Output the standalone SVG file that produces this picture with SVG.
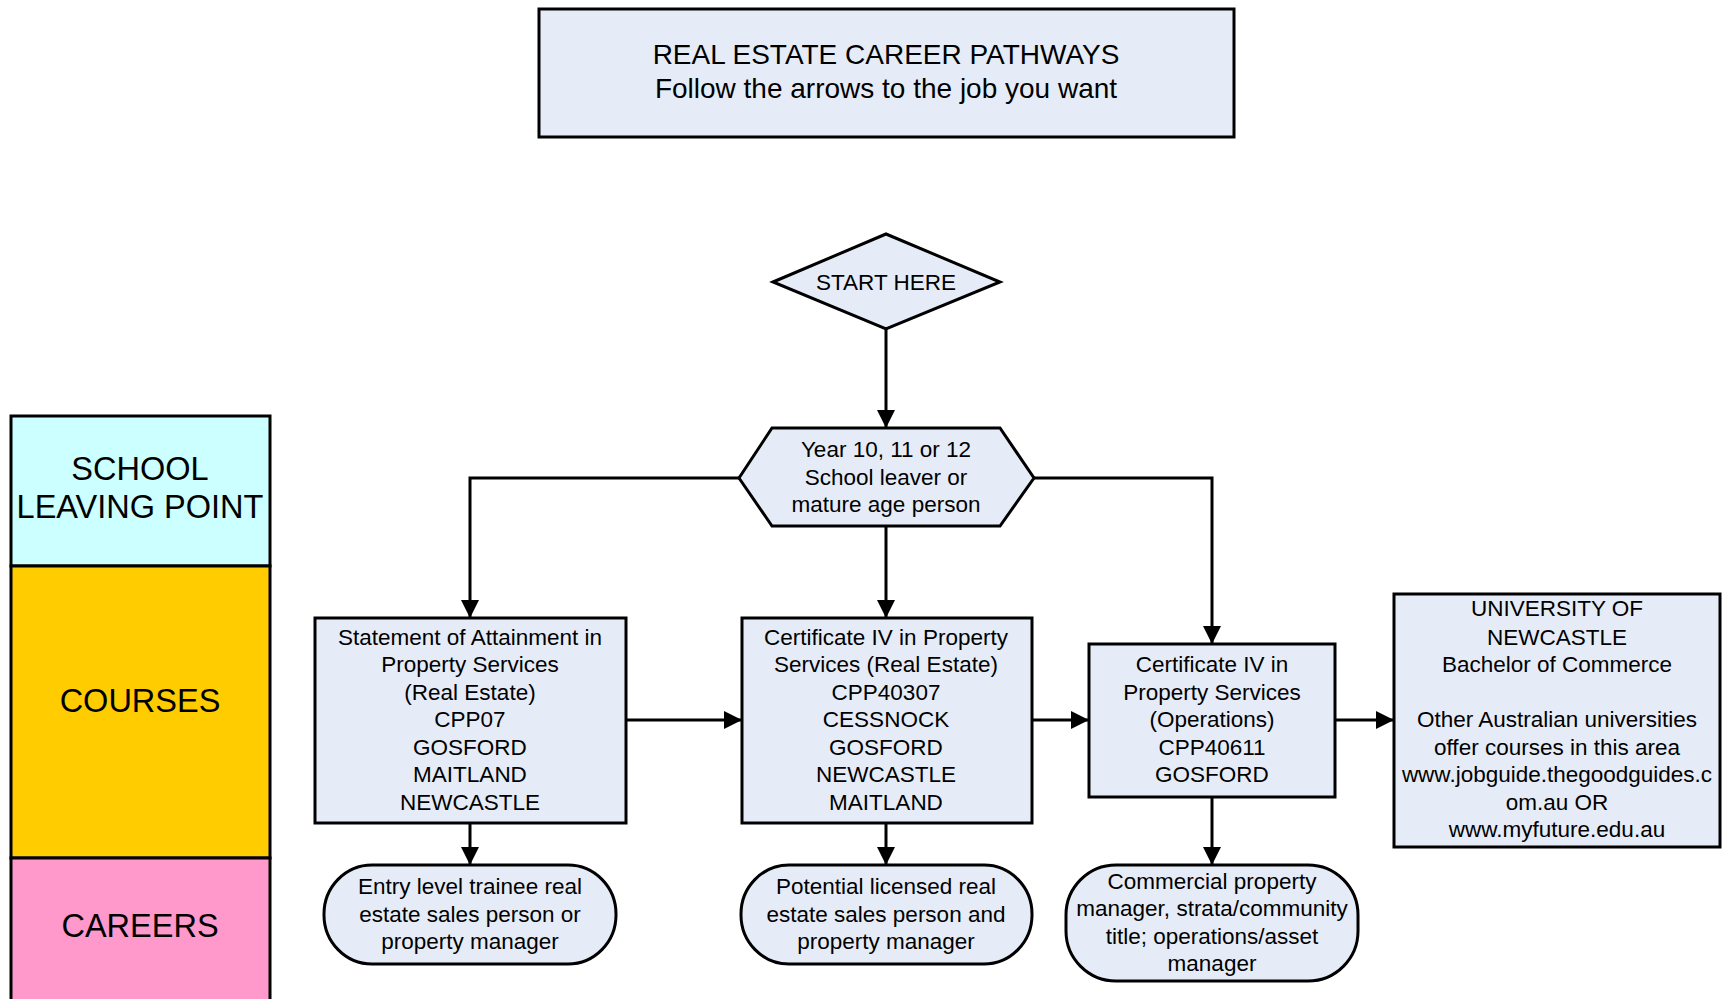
<svg xmlns="http://www.w3.org/2000/svg" width="1722" height="999" viewBox="0 0 1722 999">
<style>
.n{fill:#E6ECF7;stroke:#000;stroke-width:3}
.t{font-family:"Liberation Sans",Arial,sans-serif;font-size:22.5px;fill:#000;text-anchor:middle;dominant-baseline:central}
.big{font-size:32.5px}
.ttl{font-size:28px}
.c{fill:none;stroke:#000;stroke-width:3}
</style>
<defs>
<marker id="ah" markerWidth="18" markerHeight="18" refX="17" refY="9" orient="auto" markerUnits="userSpaceOnUse">
<path d="M0,0 L18,9 L0,18 Z" fill="#000"/>
</marker>
</defs>
<rect width="1722" height="999" fill="#fff"/>

<g id="legend">
<rect x="11" y="416" width="259" height="150" fill="#CCFFFF" stroke="#000" stroke-width="3"/>
<rect x="11" y="566" width="259" height="292" fill="#FFCC00" stroke="#000" stroke-width="3"/>
<rect x="11" y="858" width="259" height="145" fill="#FF99CC" stroke="#000" stroke-width="3"/>
<text class="t big" x="140" y="469">SCHOOL</text>
<text class="t big" x="140" y="507">LEAVING POINT</text>
<text class="t big" x="140" y="701">COURSES</text>
<text class="t big" x="140" y="926">CAREERS</text>
</g>

<g id="title">
<rect class="n" x="539" y="9" width="695" height="128"/>
<text class="t ttl" x="886" y="54">REAL ESTATE CAREER PATHWAYS</text>
<text class="t ttl" x="886" y="88">Follow the arrows to the job you want</text>
</g>

<g id="connectors">
<path class="c" d="M886,329 L886,427" marker-end="url(#ah)"/>
<path class="c" d="M886,526 L886,617" marker-end="url(#ah)"/>
<path class="c" d="M739,478 L470,478 L470,617" marker-end="url(#ah)"/>
<path class="c" d="M1034,478 L1212,478 L1212,643" marker-end="url(#ah)"/>
<path class="c" d="M626,720 L741,720" marker-end="url(#ah)"/>
<path class="c" d="M1032,720 L1088,720" marker-end="url(#ah)"/>
<path class="c" d="M1335,720 L1393,720" marker-end="url(#ah)"/>
<path class="c" d="M470,823 L470,864" marker-end="url(#ah)"/>
<path class="c" d="M886,823 L886,864" marker-end="url(#ah)"/>
<path class="c" d="M1212,797 L1212,864" marker-end="url(#ah)"/>
</g>

<g id="start">
<polygon class="n" points="773,282 886,234 1000,282 886,329"/>
<text class="t" x="886" y="282">START HERE</text>
</g>

<g id="leaver">
<polygon class="n" points="739,478 772,428 1000,428 1034,478 1000,526 772,526"/>
<text class="t" x="886" y="449">Year 10, 11 or 12</text>
<text class="t" x="886" y="477">School leaver or</text>
<text class="t" x="886" y="504">mature age person</text>
</g>

<g id="course1">
<rect class="n" x="315" y="618" width="311" height="205"/>
<text class="t" x="470" y="637">Statement of Attainment in</text>
<text class="t" x="470" y="664">Property Services</text>
<text class="t" x="470" y="692">(Real Estate)</text>
<text class="t" x="470" y="719">CPP07</text>
<text class="t" x="470" y="747">GOSFORD</text>
<text class="t" x="470" y="774">MAITLAND</text>
<text class="t" x="470" y="802">NEWCASTLE</text>
</g>

<g id="course2">
<rect class="n" x="742" y="618" width="290" height="205"/>
<text class="t" x="886" y="637">Certificate IV in Property</text>
<text class="t" x="886" y="664">Services (Real Estate)</text>
<text class="t" x="886" y="692">CPP40307</text>
<text class="t" x="886" y="719">CESSNOCK</text>
<text class="t" x="886" y="747">GOSFORD</text>
<text class="t" x="886" y="774">NEWCASTLE</text>
<text class="t" x="886" y="802">MAITLAND</text>
</g>

<g id="course3">
<rect class="n" x="1089" y="644" width="246" height="153"/>
<text class="t" x="1212" y="664">Certificate IV in</text>
<text class="t" x="1212" y="692">Property Services</text>
<text class="t" x="1212" y="719">(Operations)</text>
<text class="t" x="1212" y="747">CPP40611</text>
<text class="t" x="1212" y="774">GOSFORD</text>
</g>

<g id="university">
<rect class="n" x="1394" y="594" width="326" height="253"/>
<text class="t" x="1557" y="608">UNIVERSITY OF</text>
<text class="t" x="1557" y="637">NEWCASTLE</text>
<text class="t" x="1557" y="664">Bachelor of Commerce</text>
<text class="t" x="1557" y="719">Other Australian universities</text>
<text class="t" x="1557" y="747">offer courses in this area</text>
<text class="t" x="1557" y="774">www.jobguide.thegoodguides.c</text>
<text class="t" x="1557" y="802">om.au OR</text>
<text class="t" x="1557" y="829">www.myfuture.edu.au</text>
</g>

<g id="career1">
<rect class="n" x="324" y="865" width="292" height="99" rx="48" ry="49"/>
<text class="t" x="470" y="886">Entry level trainee real</text>
<text class="t" x="470" y="914">estate sales person or</text>
<text class="t" x="470" y="941">property manager</text>
</g>

<g id="career2">
<rect class="n" x="741" y="865" width="291" height="99" rx="48" ry="49"/>
<text class="t" x="886" y="886">Potential licensed real</text>
<text class="t" x="886" y="914">estate sales person and</text>
<text class="t" x="886" y="941">property manager</text>
</g>

<g id="career3">
<rect class="n" x="1066" y="865" width="292" height="116" rx="50" ry="50"/>
<text class="t" x="1212" y="881">Commercial property</text>
<text class="t" x="1212" y="908">manager, strata/community</text>
<text class="t" x="1212" y="936">title; operations/asset</text>
<text class="t" x="1212" y="963">manager</text>
</g>
</svg>
